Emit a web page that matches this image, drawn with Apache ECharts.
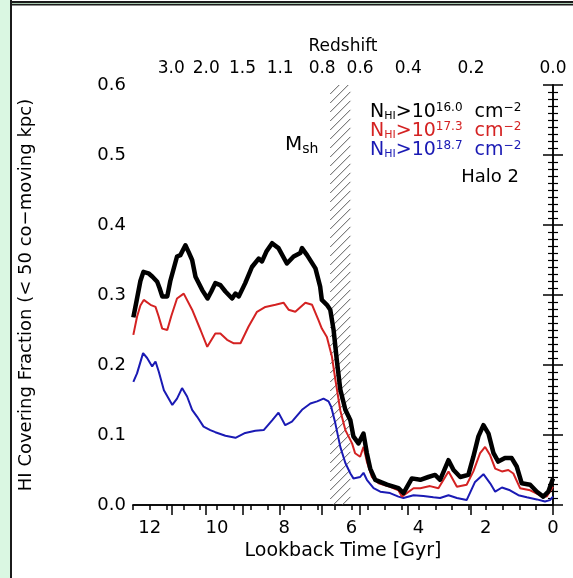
<!DOCTYPE html>
<html><head><meta charset="utf-8">
<script src="https://cdn.jsdelivr.net/npm/echarts@6/dist/echarts.min.js"></script>
<style>html,body{margin:0;padding:0;background:#fff}#c{width:573px;height:578px}</style>
</head><body><div id="c"></div>
<script>
// ---- data (lookback time in Gyr, covering fraction) ----
const blackT = [12.49,12.40,12.28,12.19,12.04,11.92,11.78,11.71,11.63,11.48,11.39,11.19,11.09,10.94,10.85,10.74,10.64,10.44,10.28,10.17,10.05,9.90,9.75,9.55,9.45,9.35,9.16,8.96,8.76,8.66,8.53,8.36,8.17,7.92,7.72,7.52,7.47,7.32,7.07,6.93,6.88,6.73,6.63,6.53,6.43,6.33,6.18,6.03,5.94,5.79,5.64,5.54,5.44,5.29,4.94,4.60,4.45,4.20,3.95,3.71,3.51,3.36,3.11,2.96,2.76,2.52,2.37,2.22,2.07,1.92,1.77,1.63,1.43,1.23,1.08,0.93,0.68,0.48,0.29,0.14,0.0];
const blackV = [0.268,0.290,0.320,0.333,0.331,0.326,0.319,0.310,0.298,0.298,0.320,0.355,0.357,0.371,0.362,0.350,0.326,0.307,0.295,0.305,0.317,0.314,0.305,0.295,0.302,0.298,0.317,0.340,0.352,0.348,0.362,0.374,0.367,0.345,0.355,0.360,0.367,0.357,0.338,0.312,0.293,0.286,0.279,0.250,0.205,0.165,0.136,0.121,0.098,0.088,0.102,0.074,0.052,0.036,0.029,0.024,0.017,0.038,0.036,0.040,0.043,0.036,0.064,0.050,0.040,0.043,0.069,0.098,0.114,0.102,0.074,0.062,0.067,0.067,0.055,0.031,0.029,0.019,0.012,0.019,0.038];

const redT = [12.49,12.38,12.28,12.18,11.98,11.83,11.74,11.63,11.48,11.36,11.19,10.99,10.74,10.49,10.29,10.05,9.90,9.70,9.50,9.30,9.06,8.81,8.56,8.26,8.02,7.87,7.67,7.37,7.17,6.98,6.88,6.73,6.58,6.48,6.33,6.18,5.98,5.89,5.74,5.64,5.54,5.39,5.19,4.85,4.60,4.50,4.15,3.95,3.66,3.41,3.11,2.86,2.57,2.37,2.17,2.02,1.87,1.72,1.52,1.33,1.18,0.98,0.68,0.39,0.19,0.0];
const redV = [0.243,0.269,0.285,0.293,0.286,0.283,0.270,0.252,0.250,0.270,0.295,0.302,0.279,0.250,0.226,0.245,0.245,0.236,0.231,0.231,0.255,0.276,0.283,0.286,0.289,0.279,0.276,0.289,0.286,0.264,0.252,0.240,0.212,0.180,0.135,0.107,0.088,0.074,0.069,0.083,0.062,0.040,0.031,0.026,0.021,0.012,0.024,0.024,0.027,0.024,0.048,0.026,0.029,0.048,0.074,0.083,0.071,0.052,0.048,0.050,0.045,0.024,0.021,0.014,0.012,0.026];

const blueT = [12.49,12.38,12.20,12.08,11.93,11.83,11.73,11.58,11.33,11.19,11.04,10.89,10.74,10.59,10.40,10.20,10.05,9.75,9.45,9.16,8.86,8.61,8.36,8.17,7.97,7.77,7.47,7.22,7.02,6.83,6.68,6.60,6.48,6.33,6.18,6.03,5.94,5.74,5.64,5.54,5.34,5.14,4.85,4.60,4.45,4.15,3.86,3.56,3.36,3.11,2.86,2.57,2.32,2.07,1.87,1.72,1.52,1.28,1.03,0.78,0.48,0.24,0.09,0.0];
const blueV = [0.176,0.188,0.217,0.210,0.198,0.205,0.190,0.164,0.143,0.152,0.167,0.155,0.136,0.126,0.112,0.107,0.104,0.099,0.096,0.103,0.106,0.107,0.121,0.132,0.114,0.119,0.136,0.145,0.148,0.152,0.148,0.140,0.117,0.083,0.060,0.045,0.038,0.040,0.046,0.036,0.024,0.019,0.017,0.012,0.010,0.014,0.013,0.011,0.010,0.014,0.010,0.007,0.033,0.044,0.031,0.019,0.025,0.021,0.014,0.011,0.008,0.005,0.007,0.012];

const xTickLabels = [0, 2, 4, 6, 8, 10, 12];
const yTickLabels = ['0.0','0.1','0.2','0.3','0.4','0.5','0.6'];
const redshiftLabels = ['3.0','2.0','1.5','1.1','0.8','0.6','0.4','0.2','0.0'];
const redshiftTimes = [11.36, 10.32, 9.24, 8.12, 6.87, 5.74, 4.31, 2.44, 0];
const hatchRange = [6.03, 6.63];
const legendExps = ['16.0', '17.3', '18.7'];

// ---- chart ----
const FONT = 'DejaVu Sans';
const C_BLACK = '#000000', C_RED = '#d42222', C_BLUE = '#1a1ab4';
const X_MIN = 0, X_MAX = 12.5, Y_MIN = 0, Y_MAX = 0.6;
const pairs = (t, v) => t.map((x, i) => [x, v[i]]);
const chart = echarts.init(document.getElementById('c'), null, {renderer: 'canvas', width: 573, height: 578});

const axisLine = {show: true, lineStyle: {color: '#000', width: 1.5}};
const tickLine = {color: '#000', width: 1.5};
const xBase = {type: 'value', min: X_MIN, max: X_MAX, inverse: true, splitLine: {show: false}};
const yBase = {type: 'value', min: Y_MIN, max: Y_MAX, interval: 0.1, splitLine: {show: false},
  axisTick: {show: true, inside: true, length: -10, lineStyle: tickLine},
  minorTick: {show: true, splitNumber: 10, length: -5, lineStyle: {color: '#000', width: 1.2}}};

function renderHatch(params, api) {
  const a = api.coord([api.value(0), Y_MAX]);
  const b = api.coord([api.value(1), Y_MIN]);
  const xl = Math.min(a[0], b[0]), xr = Math.max(a[0], b[0]);
  const yt = Math.min(a[1], b[1]), yb = Math.max(a[1], b[1]);
  const step = 9;
  const children = [];
  for (let c = xl + yt; c <= xr + yb; c += step) {
    const x1 = Math.max(xl, c - yb), x2 = Math.min(xr, c - yt);
    if (x2 > x1) children.push({type: 'line', shape: {x1: x1, y1: c - x1, x2: x2, y2: c - x2},
      style: {stroke: '#4a4a4a', lineWidth: 0.9}});
  }
  return {type: 'group', children: children};
}

function legendText(color, exp, y) {
  return {
    type: 'text', x: 370, y: y, z: 100,
    style: {
      text: '{n|N}{s|HI}{n|>10}{p|' + exp + '}{n|  cm}{p|−2}',
      align: 'left', verticalAlign: 'middle', fill: color,
      rich: {
        n: {fontFamily: FONT, fontSize: 19, lineHeight: 20, fill: color},
        s: {fontFamily: FONT, fontSize: 11, lineHeight: 8, verticalAlign: 'bottom', fill: color},
        p: {fontFamily: FONT, fontSize: 12, lineHeight: 15, verticalAlign: 'top', fill: color}
      }
    }
  };
}

const option = {
  backgroundColor: '#ffffff',
  animation: false,
  grid: {left: 133, right: 20, top: 85, bottom: 73},
  xAxis: [
    Object.assign({}, xBase, {
      position: 'bottom', interval: 0.5, axisLine: axisLine,
      axisTick: {show: true, inside: true, length: -5, lineStyle: tickLine},
      axisLabel: {color: '#000', fontFamily: FONT, fontSize: 18, margin: 14,
        formatter: v => (xTickLabels.indexOf(v) >= 0 ? String(v) : '')},
      name: 'Lookback Time [Gyr]', nameLocation: 'middle', nameGap: 37,
      nameTextStyle: {color: '#000', fontFamily: FONT, fontSize: 19}
    }),
    Object.assign({}, xBase, {
      position: 'top', axisLine: axisLine,
      axisTick: {show: true, inside: true, length: 10, customValues: redshiftTimes, lineStyle: tickLine},
      axisLabel: {color: '#000', fontFamily: FONT, fontSize: 17, margin: 8, customValues: redshiftTimes,
        formatter: v => {
          const i = redshiftTimes.findIndex(t => Math.abs(t - v) < 1e-6);
          return i >= 0 ? redshiftLabels[i] : '';
        }},
      name: 'Redshift', nameLocation: 'middle', nameGap: 29,
      nameTextStyle: {color: '#000', fontFamily: FONT, fontSize: 17}
    })
  ],
  yAxis: [
    Object.assign({}, yBase, {
      position: 'left', axisLine: axisLine,
      axisLabel: {color: '#000', fontFamily: FONT, fontSize: 18, margin: 7,
        formatter: v => yTickLabels[Math.round(v * 10)]},
      name: 'HI Covering Fraction (< 50 co−moving kpc)', nameLocation: 'middle', nameGap: 98,
      nameRotate: 90, nameTextStyle: {color: '#000', fontFamily: FONT, fontSize: 18}
    }),
    Object.assign({}, yBase, {
      position: 'right', axisLine: axisLine, axisLabel: {show: false}
    })
  ],
  series: [
    {type: 'custom', xAxisIndex: 0, yAxisIndex: 0, renderItem: renderHatch, silent: true, z: 1, clip: false,
      encode: {x: [0, 1]}, data: [[hatchRange[0], hatchRange[1]]]},
    {type: 'line', xAxisIndex: 0, yAxisIndex: 0, data: pairs(blueT, blueV), showSymbol: false, z: 3,
      lineStyle: {color: C_BLUE, width: 2}, itemStyle: {color: C_BLUE}},
    {type: 'line', xAxisIndex: 0, yAxisIndex: 0, data: pairs(redT, redV), showSymbol: false, z: 4,
      lineStyle: {color: C_RED, width: 2}, itemStyle: {color: C_RED}},
    {type: 'line', xAxisIndex: 0, yAxisIndex: 0, data: pairs(blackT, blackV), showSymbol: false, z: 5,
      lineStyle: {color: C_BLACK, width: 4.5, join: 'round'}, itemStyle: {color: C_BLACK}}
  ],
  graphic: [
    {type: 'rect', shape: {x: 0, y: 0, width: 10, height: 578}, style: {fill: '#daf7e2'}, z: 0},
    {type: 'rect', shape: {x: 10, y: 0, width: 2, height: 578}, style: {fill: '#1b1b1b'}, z: 0},
    {type: 'rect', shape: {x: 10, y: 1, width: 563, height: 2}, style: {fill: '#1b1b1b'}, z: 0},
    {type: 'rect', shape: {x: 12, y: 3, width: 561, height: 1}, style: {fill: '#a8c8b0'}, z: 0},
    {type: 'rect', shape: {x: 10, y: 4, width: 563, height: 1.5}, style: {fill: '#1b1b1b'}, z: 0},
    legendText(C_BLACK, legendExps[0], 112),
    legendText(C_RED, legendExps[1], 131),
    legendText(C_BLUE, legendExps[2], 150),
    {type: 'text', x: 519, y: 177, z: 100,
      style: {text: 'Halo 2', align: 'right', verticalAlign: 'middle', fill: '#000', fontFamily: FONT, fontSize: 18}},
    {type: 'text', x: 285, y: 145, z: 100,
      style: {text: '{m|M}{s|sh}', align: 'left', verticalAlign: 'middle', fill: '#000',
        rich: {m: {fontFamily: FONT, fontSize: 20, lineHeight: 22, fill: '#000'},
               s: {fontFamily: FONT, fontSize: 14, lineHeight: 8, verticalAlign: 'bottom', fill: '#000'}}}}
  ]
};
chart.setOption(option);
</script>
</body></html>
